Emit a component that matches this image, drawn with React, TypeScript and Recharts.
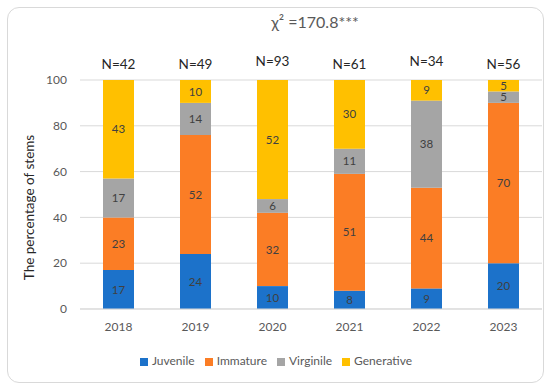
import React from 'react';
import { BarChart, Bar, XAxis, YAxis, CartesianGrid, Legend, LabelList } from 'recharts';

const YEARS = ['2018', '2019', '2020', '2021', '2022', '2023'];
const JUVENILE = [17, 24, 10, 8, 9, 20];
const IMMATURE = [23, 52, 32, 51, 44, 70];
const VIRGINILE = [17, 14, 6, 11, 38, 5];
const GENERATIVE = [43, 10, 52, 30, 9, 5];
const SAMPLE_N = [42, 49, 93, 61, 34, 56];
const Y_TICKS = [0, 20, 40, 60, 80, 100];

// a couple of the N= boxes sit a bit higher in the original
const N_RAISE = [0, 0, 3, 0, 3, 0];

const FONT = 'Lato, "Open Sans", sans-serif';
const TEXT_GRAY = '#595959';

const chartData = YEARS.map((year, i) => ({
  year,
  juvenile: JUVENILE[i],
  immature: IMMATURE[i],
  virginile: VIRGINILE[i],
  generative: GENERATIVE[i],
  n: SAMPLE_N[i],
}));

const SERIES = [
  { key: 'juvenile', name: 'Juvenile', color: '#1C72CA' },
  { key: 'immature', name: 'Immature', color: '#FB7D25' },
  { key: 'virginile', name: 'Virginile', color: '#A5A5A5' },
  { key: 'generative', name: 'Generative', color: '#FFC000' },
];

function NLabel(props: any) {
  const { x, width, index, viewBox } = props;
  const top = viewBox ? viewBox.y : props.y;
  const cx = x + width / 2;
  return (
    <text
      x={cx}
      y={top - 16 - N_RAISE[index]}
      textAnchor="middle"
      dominantBaseline="central"
      fontSize={13.5}
      fill="#262626"
      fontFamily={FONT}
    >
      N={SAMPLE_N[index]}
    </text>
  );
}

// axis title sits a little below the middle of the plot, like the Excel original
function YTitle(props: any) {
  const { viewBox } = props;
  const cx = 29;
  const cy = viewBox.y + viewBox.height / 2 + 13;
  return (
    <text
      x={cx}
      y={cy}
      transform={`rotate(-90, ${cx}, ${cy})`}
      textAnchor="middle"
      dominantBaseline="central"
      fontSize={13.5}
      fill="#262626"
      fontFamily={FONT}
    >
      The percentage of stems
    </text>
  );
}

export default function App() {
  return (
    <div style={{ position: 'relative', width: 550, height: 387, fontFamily: FONT, background: '#fff' }}>
      <style>{`body{margin:0}`}</style>
      <div
        style={{
          position: 'absolute',
          left: 7,
          top: 7,
          width: 535,
          height: 374,
          border: '1px solid #D9D9D9',
          borderRadius: 12,
        }}
      />
      <div
        style={{
          position: 'absolute',
          top: 12,
          left: 0,
          width: 630,
          textAlign: 'center',
          fontSize: 16,
          lineHeight: '20px',
          color: TEXT_GRAY,
        }}
      >
        χ² =170.8***
      </div>
      <div style={{ position: 'absolute', left: 0, top: 0 }}>
        <BarChart
          width={550}
          height={387}
          data={chartData}
          margin={{ top: 80, right: 8, bottom: 17, left: 20 }}
          barSize={31}
        >
          <CartesianGrid vertical={false} stroke="#D9D9D9" />
          <XAxis
            dataKey="year"
            height={44}
            tickLine={false}
            axisLine={{ stroke: '#D9D9D9' }}
            tick={{ fontSize: 12, fill: TEXT_GRAY, fontFamily: FONT, dy: 5 }}
          />
          <YAxis
            width={60}
            domain={[0, 100]}
            ticks={Y_TICKS}
            tickLine={false}
            axisLine={false}
            tick={{ fontSize: 12, fill: TEXT_GRAY, fontFamily: FONT, dx: -5 }}
            label={{ value: 'The percentage of stems', content: YTitle }}
          />
          <Legend
            verticalAlign="bottom"
            height={17}
            iconType="square"
            iconSize={8}
            itemSorter={(item: any) => SERIES.findIndex((s) => s.name === item.value)}
            wrapperStyle={{ fontSize: 12, fontFamily: FONT, height: 17 }}
            formatter={(value: string) => <span style={{ color: TEXT_GRAY }}>{value}</span>}
          />
          {SERIES.map((s) => (
            <Bar key={s.key} dataKey={s.key} name={s.name} stackId="a" fill={s.color} isAnimationActive={false}>
              <LabelList
                dataKey={s.key}
                position="center"
                style={{ fontSize: 11.5, fill: '#404040', fontFamily: FONT }}
              />
              {s.key === 'generative' && <LabelList dataKey="n" content={NLabel} />}
            </Bar>
          ))}
        </BarChart>
      </div>
    </div>
  );
}
